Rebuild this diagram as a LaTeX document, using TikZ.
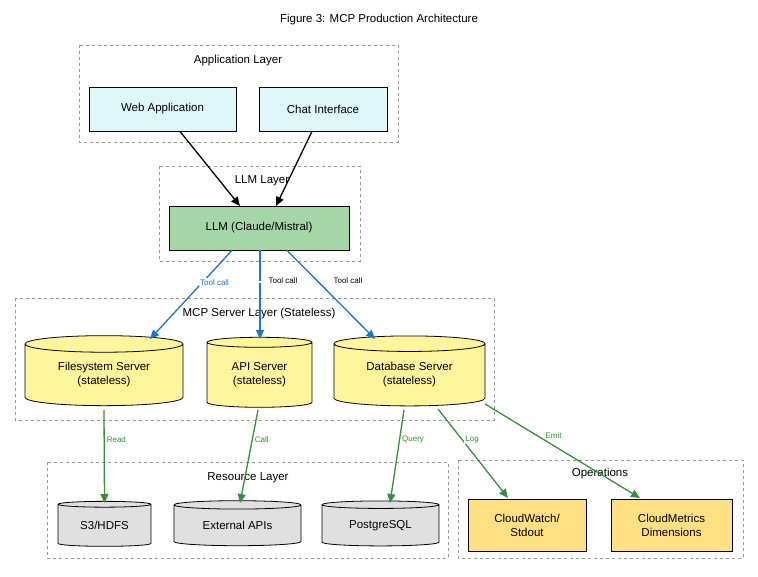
\documentclass[tikz,border=0pt]{standalone}
\usepackage{fontspec}
\setmainfont{Liberation Sans}
\usetikzlibrary{shapes.geometric,arrows.meta}
\definecolor{cyanf}{HTML}{E0F7FA}
\definecolor{greenf}{HTML}{A5D6A7}
\definecolor{yellowf}{HTML}{FFF59D}
\definecolor{greyf}{HTML}{E0E0E0}
\definecolor{orangef}{HTML}{FFE082}
\definecolor{blueA}{HTML}{1976D2}
\definecolor{greenA}{HTML}{388E3C}
\begin{document}
\begin{tikzpicture}[x=1pt,y=-1pt,
  layer/.style={draw=gray!80,dashed,thick},
  lbl/.style={font=\fontsize{11.5}{13}\selectfont},
  box/.style={draw,thick,font=\fontsize{11.5}{14}\selectfont,align=center,inner sep=0pt},
  cyl/.style={cylinder,shape border rotate=90,aspect=0.18,draw,thick,align=center,font=\fontsize{11.5}{14}\selectfont,inner sep=0pt},
  tag/.style={font=\fontsize{8}{9}\selectfont,fill=white,inner sep=1pt},
  arr/.style={-{Triangle[length=9pt,width=8pt]},line width=1.3pt}]
\useasboundingbox (0,0) rectangle (758,577);
\node[font=\fontsize{11.5}{13}\selectfont] (title) at (379,20) {Figure 3: MCP Production Architecture};
% layers
\draw[layer] (79,45) rectangle (398,142); \node[lbl] (lapp) at (238,61) {Application Layer};
\draw[layer] (159,166) rectangle (360,261);
\draw[layer] (15,298) rectangle (494,420);
\draw[layer] (47,462) rectangle (448,558); \node[lbl] (lres) at (248,478) {Resource Layer};
\draw[layer] (458,460) rectangle (743,558); \node[lbl] (lops) at (600,474) {Operations};
% nodes
\node[box,fill=cyanf,minimum width=147pt,minimum height=44pt] (web) at (162.5,109) {Web Application};
\node[box,fill=cyanf,minimum width=128pt,minimum height=44pt] (chat) at (323,109) {Chat Interface};
\node[box,fill=greenf,minimum width=180pt,minimum height=44pt] (llm) at (259,228) {LLM (Claude/Mistral)};
\node[cyl,fill=yellowf,minimum width=158pt,minimum height=70pt] (fs) at (104,375) {Filesystem Server\\(stateless)};
\node[cyl,fill=yellowf,minimum width=105pt,minimum height=70pt] (api) at (259.5,375) {API Server\\(stateless)};
\node[cyl,fill=yellowf,minimum width=151pt,minimum height=70pt] (db) at (409.5,375) {Database Server\\(stateless)};
\node[cyl,fill=greyf,minimum width=93pt,minimum height=45pt,aspect=0.12] (s3) at (104.5,525.5) {S3/HDFS};
\node[cyl,fill=greyf,minimum width=127pt,minimum height=45pt,aspect=0.12] (ext) at (237.5,525.5) {External APIs};
\node[cyl,fill=greyf,minimum width=117pt,minimum height=45pt,aspect=0.12] (pg) at (380.5,525.5) {PostgreSQL};
\node[box,fill=orangef,minimum width=118pt,minimum height=52pt] (cw) at (527,525) {CloudWatch/\\Stdout};
\node[box,fill=orangef,minimum width=121pt,minimum height=52pt] (cm) at (671.5,525) {CloudMetrics\\Dimensions};
% arrows
\coordinate (llmt1) at (240,206); \coordinate (llmt2) at (276,206);
\draw[arr] (web.south -| 180,0) ++(0,0) -- (llmt1);
\draw[arr] (chat.south -| 312,0) -- (llmt2);
\node[lbl] (lllm) at (262,181) {LLM Layer};
\node[lbl] (lmcp) at (259,314) {MCP Server Layer (Stateless)};
\draw[arr,blueA] (llm.south -| 232,0) -- (150,339) node[tag,pos=0.36,right=-4pt] {Tool call};
\draw[arr,blueA] (llm.south -| 260,0) -- (260,339) node[tag,pos=0.36] at (283,281) {};
\node[tag] (t2) at (283,281) {Tool call};
\draw[arr,blueA] (llm.south -| 287,0) -- (375,339);
\node[tag] (t3) at (348,281) {Tool call};
\draw[arr,greenA] (fs.bottom |- 0,410) ++(0,0) -- (104.5,503) node[tag,pos=0.32,right=1pt] {Read};
\draw[arr,greenA] (258,410) -- (240,503) node[tag,pos=0.32,right=1pt] {Call};
\draw[arr,greenA] (404,410) -- (390,503) node[tag,pos=0.32,right=1pt] {Query};
\draw[arr,greenA] (438,409) -- (508,498) node[tag,pos=0.34,right=2pt] {Log};
\draw[arr,greenA] (485,404) -- (640,498) node[tag,pos=0.38,above right=0pt] {Emit};
\end{tikzpicture}
\end{document}
